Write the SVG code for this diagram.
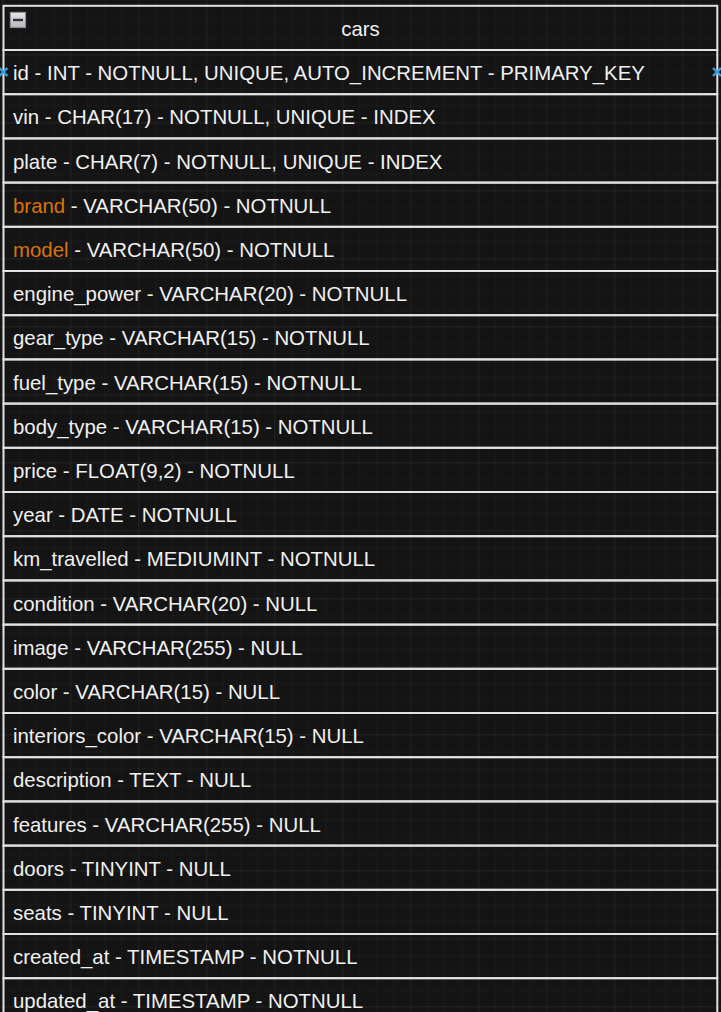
<svg xmlns="http://www.w3.org/2000/svg" width="721" height="1012" viewBox="0 0 721 1012">
<style>
.row{fill:none;stroke:#e2e2e2;stroke-width:2}
.t{font-family:"Liberation Sans",Arial,sans-serif;font-size:20.4px;fill:#f0f0f0}
.title{font-family:"Liberation Sans",Arial,sans-serif;font-size:20.4px;fill:#f0f0f0;text-anchor:middle}
.o{fill:#d9730d}
.pt{fill:none;stroke:#3a9ee4;stroke-width:2.4}
</style>
<defs>
<pattern id="minor" patternUnits="userSpaceOnUse" x="2.3" y="3.3" width="17" height="17">
<path d="M0 0V17M0 0H17" stroke="#1f1f1f" stroke-width="1" fill="none"/>
</pattern>
<pattern id="major" patternUnits="userSpaceOnUse" x="2.3" y="-13.7" width="68" height="68">
<path d="M0 0V68M0 0H68" stroke="#2c2c2c" stroke-width="1" fill="none"/>
</pattern>
<linearGradient id="ic" x1="0" y1="0" x2="0" y2="1">
<stop offset="0" stop-color="#e6e6ea"/>
<stop offset="1" stop-color="#b4b4bc"/>
</linearGradient>
</defs>
<rect width="721" height="1012" fill="#141414"/>
<rect width="721" height="1012" fill="url(#minor)"/>
<rect width="721" height="1012" fill="url(#major)"/>
<g id="connectors"/>
<g id="cars">
<rect class="row" x="3.5" y="5.8" width="713.8" height="44.2"/>
<rect x="10.3" y="12.3" width="15.3" height="15.3" fill="url(#ic)" stroke="#8c8c94" stroke-width="1"/>
<line x1="13" y1="20" x2="23" y2="20" stroke="#333" stroke-width="2.4"/>
<text class="title" x="360.5" y="35.5">cars</text>
<g id="row-id"><rect class="row" x="3.5" y="50" width="713.8" height="44.2"/><text class="t" x="13" y="80.2">id - INT - NOTNULL, UNIQUE, AUTO_INCREMENT - PRIMARY_KEY</text>
<path class="pt" d="M-0.5 68l8 8M-0.5 76l8-8"/><path class="pt" d="M713 68l8 8M713 76l8-8"/></g>
<g id="row-vin"><rect class="row" x="3.5" y="94.2" width="713.8" height="44.2"/><text class="t" x="13" y="124.4">vin - CHAR(17) - NOTNULL, UNIQUE - INDEX</text></g>
<g id="row-plate"><rect class="row" x="3.5" y="138.4" width="713.8" height="44.2"/><text class="t" x="13" y="168.6">plate - CHAR(7) - NOTNULL, UNIQUE - INDEX</text></g>
<g id="row-brand"><rect class="row" x="3.5" y="182.6" width="713.8" height="44.2"/><text class="t" x="13" y="212.8"><tspan class="o">brand</tspan> - VARCHAR(50) - NOTNULL</text></g>
<g id="row-model"><rect class="row" x="3.5" y="226.8" width="713.8" height="44.2"/><text class="t" x="13" y="257"><tspan class="o">model</tspan> - VARCHAR(50) - NOTNULL</text></g>
<g id="row-engine_power"><rect class="row" x="3.5" y="271" width="713.8" height="44.2"/><text class="t" x="13" y="301.2">engine_power - VARCHAR(20) - NOTNULL</text></g>
<g id="row-gear_type"><rect class="row" x="3.5" y="315.2" width="713.8" height="44.2"/><text class="t" x="13" y="345.4">gear_type - VARCHAR(15) - NOTNULL</text></g>
<g id="row-fuel_type"><rect class="row" x="3.5" y="359.4" width="713.8" height="44.2"/><text class="t" x="13" y="389.6">fuel_type - VARCHAR(15) - NOTNULL</text></g>
<g id="row-body_type"><rect class="row" x="3.5" y="403.6" width="713.8" height="44.2"/><text class="t" x="13" y="433.8">body_type - VARCHAR(15) - NOTNULL</text></g>
<g id="row-price"><rect class="row" x="3.5" y="447.8" width="713.8" height="44.2"/><text class="t" x="13" y="478">price - FLOAT(9,2) - NOTNULL</text></g>
<g id="row-year"><rect class="row" x="3.5" y="492" width="713.8" height="44.2"/><text class="t" x="13" y="522.2">year - DATE - NOTNULL</text></g>
<g id="row-km_travelled"><rect class="row" x="3.5" y="536.2" width="713.8" height="44.2"/><text class="t" x="13" y="566.4">km_travelled - MEDIUMINT - NOTNULL</text></g>
<g id="row-condition"><rect class="row" x="3.5" y="580.4" width="713.8" height="44.2"/><text class="t" x="13" y="610.6">condition - VARCHAR(20) - NULL</text></g>
<g id="row-image"><rect class="row" x="3.5" y="624.6" width="713.8" height="44.2"/><text class="t" x="13" y="654.8">image - VARCHAR(255) - NULL</text></g>
<g id="row-color"><rect class="row" x="3.5" y="668.8" width="713.8" height="44.2"/><text class="t" x="13" y="699">color - VARCHAR(15) - NULL</text></g>
<g id="row-interiors_color"><rect class="row" x="3.5" y="713" width="713.8" height="44.2"/><text class="t" x="13" y="743.2">interiors_color - VARCHAR(15) - NULL</text></g>
<g id="row-description"><rect class="row" x="3.5" y="757.2" width="713.8" height="44.2"/><text class="t" x="13" y="787.4">description - TEXT - NULL</text></g>
<g id="row-features"><rect class="row" x="3.5" y="801.4" width="713.8" height="44.2"/><text class="t" x="13" y="831.6">features - VARCHAR(255) - NULL</text></g>
<g id="row-doors"><rect class="row" x="3.5" y="845.6" width="713.8" height="44.2"/><text class="t" x="13" y="875.8">doors - TINYINT - NULL</text></g>
<g id="row-seats"><rect class="row" x="3.5" y="889.8" width="713.8" height="44.2"/><text class="t" x="13" y="920">seats - TINYINT - NULL</text></g>
<g id="row-created_at"><rect class="row" x="3.5" y="934" width="713.8" height="44.2"/><text class="t" x="13" y="964.2">created_at - TIMESTAMP - NOTNULL</text></g>
<g id="row-updated_at"><rect class="row" x="3.5" y="978.2" width="713.8" height="44.2"/><text class="t" x="13" y="1008.4">updated_at - TIMESTAMP - NOTNULL</text></g>
</g>
</svg>
